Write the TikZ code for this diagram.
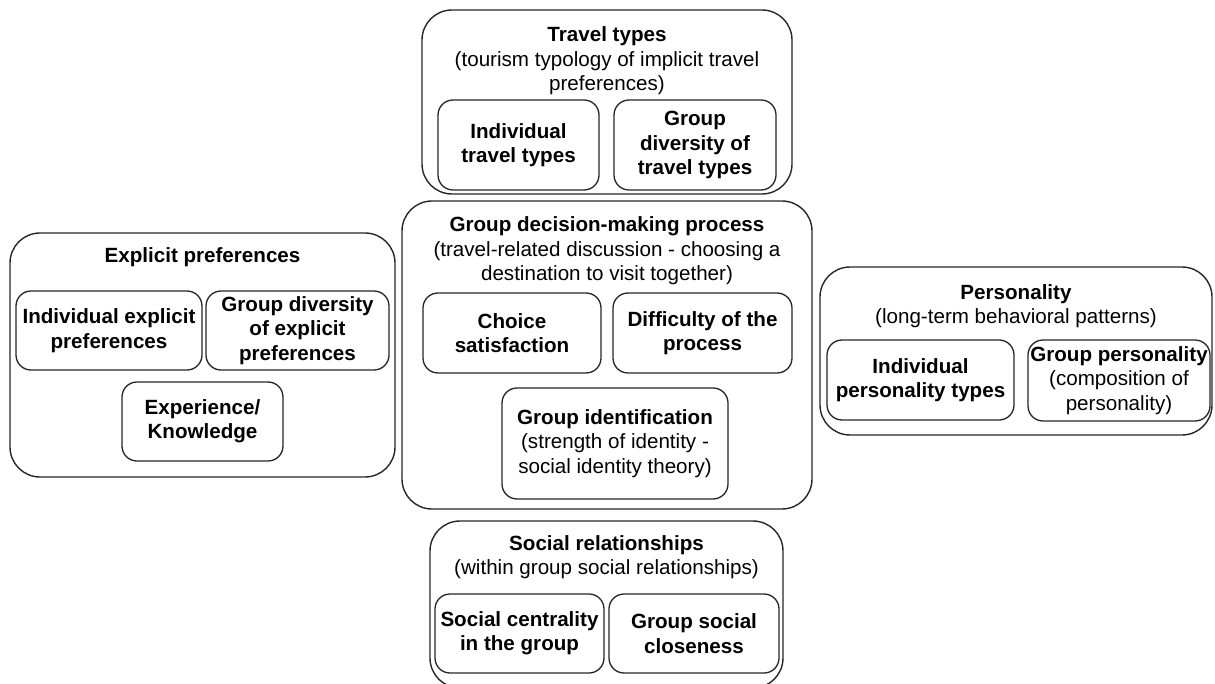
\documentclass[tikz,border=0pt]{standalone}
\usepackage{fontspec}
\setmainfont{Liberation Sans}
\begin{document}
\begin{tikzpicture}[x=1pt,y=-1pt,
  every node/.style={font=\fontsize{20.6}{24.4}\selectfont, align=center, inner sep=0pt},
  group/.style={draw=black!85, line width=1.4pt, rounded corners=30pt},
  item/.style={draw=black!85, line width=1.3pt, rounded corners=15pt},
  heading/.style={font=\fontsize{20.6}{24.4}\selectfont\bfseries},
  hl/.style={font=\fontsize{20.6}{24.4}\selectfont\bfseries}]
\useasboundingbox (0,0) rectangle (1215,684);

% Travel types
\node[group, minimum width=370pt, minimum height=184pt] (tt) at (607,102) {};
\node (ttTitle) at (607,61) {\textbf{Travel types}\\(tourism typology of implicit travel\\preferences)};
\node[item, minimum width=161pt, minimum height=90pt, hl] (ttInd) at (518.5,145) {Individual\\travel types};
\node[item, minimum width=162pt, minimum height=90pt, hl] (ttGrp) at (695,145) {Group\\diversity of\\travel types};

% Group decision-making process
\node[group, minimum width=410pt, minimum height=308pt] (dm) at (607,355) {};
\node (dmTitle) at (607,251) {\textbf{Group decision-making process}\\(travel-related discussion - choosing a\\destination to visit together)};
\node[item, minimum width=178pt, minimum height=80pt, hl] (dmChoice) at (512,333) {Choice\\satisfaction};
\node[item, minimum width=179pt, minimum height=80pt, hl] (dmDiff) at (702.5,333) {Difficulty of the\\process};
\node[item, minimum width=226pt, minimum height=111pt] (dmIdent) at (615,443.5) {\textbf{Group identification}\\(strength of identity -\\social identity theory)};

% Explicit preferences
\node[group, minimum width=385pt, minimum height=244pt] (ep) at (202.5,355) {};
\node[heading] (epTitle) at (202.5,257) {Explicit preferences};
\node[item, minimum width=186pt, minimum height=79pt, hl] (epInd) at (109,330.5) {Individual explicit\\preferences};
\node[item, minimum width=183pt, minimum height=79pt, hl] (epGrp) at (297.5,330.5) {Group diversity\\of explicit\\preferences};
\node[item, minimum width=161pt, minimum height=79pt, hl] (epExp) at (202.5,421.5) {Experience/\\Knowledge};

% Personality
\node[group, minimum width=392pt, minimum height=168pt] (ps) at (1016,351) {};
\node (psTitle) at (1016,306) {\textbf{Personality}\\(long-term behavioral patterns)};
\node[item, minimum width=187pt, minimum height=80pt, hl] (psInd) at (920.5,380) {Individual\\personality types};
\node[item, minimum width=182pt, minimum height=81pt] (psGrp) at (1119,380.5) {\textbf{Group personality}\\(composition of\\personality)};

% Social relationships
\node[group, minimum width=353pt, minimum height=167pt] (sr) at (606.5,604.5) {};
\node (srTitle) at (606.5,557) {\textbf{Social relationships}\\(within group social relationships)};
\node[item, minimum width=169pt, minimum height=79pt, hl] (srCent) at (519.5,633.5) {Social centrality\\in the group};
\node[item, minimum width=170pt, minimum height=79pt, hl] (srClose) at (694,633.5) {Group social\\closeness};
\end{tikzpicture}
\end{document}
